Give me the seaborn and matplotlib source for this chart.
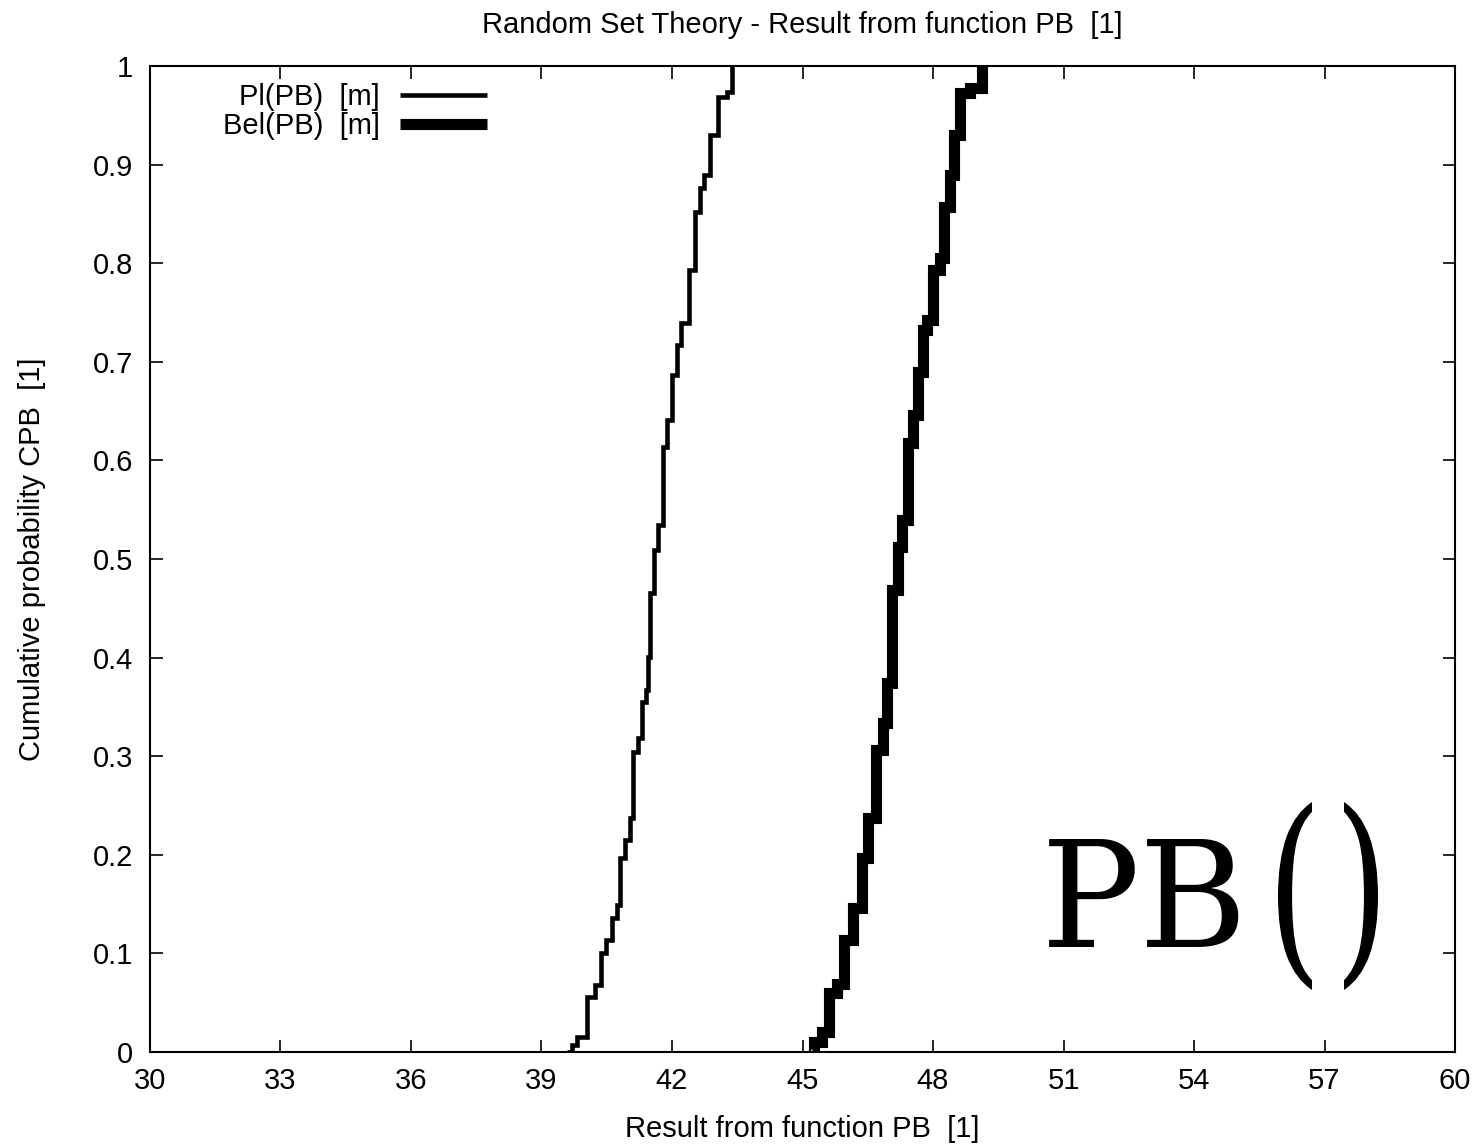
import numpy as np
import pandas as pd
import matplotlib
matplotlib.use('Agg')
import matplotlib.pyplot as plt
import seaborn as sns
from matplotlib.textpath import TextPath
from matplotlib.patches import PathPatch
from matplotlib.font_manager import FontProperties
from matplotlib.transforms import Affine2D

# Plausibility curve Pl(PB): x position of each vertical step and the level it reaches
pl_x = [39.59, 39.70, 39.82, 40.05, 40.23, 40.37, 40.49, 40.63, 40.74, 40.80,
        40.92, 41.03, 41.10, 41.22, 41.31, 41.40, 41.45, 41.49, 41.59, 41.68,
        41.79, 41.88, 42.00, 42.11, 42.21, 42.39, 42.53, 42.64, 42.74, 42.87,
        43.06, 43.26, 43.38]
pl_y = [0.000, 0.007, 0.015, 0.056, 0.068, 0.100, 0.114, 0.136, 0.149, 0.197,
        0.215, 0.237, 0.304, 0.318, 0.355, 0.367, 0.401, 0.466, 0.509, 0.534,
        0.614, 0.641, 0.687, 0.717, 0.739, 0.793, 0.852, 0.876, 0.889, 0.930,
        0.969, 0.974, 1.000]

# Belief curve Bel(PB)
bel_x = [45.22, 45.26, 45.45, 45.61, 45.79, 45.95, 46.16, 46.37, 46.51, 46.69,
         46.85, 46.94, 47.06, 47.20, 47.29, 47.43, 47.54, 47.66, 47.77, 47.86,
         48.00, 48.16, 48.25, 48.39, 48.48, 48.62, 48.85, 49.13]
bel_y = [0.000, 0.010, 0.020, 0.060, 0.069, 0.114, 0.146, 0.197, 0.237, 0.306,
         0.334, 0.374, 0.469, 0.512, 0.540, 0.618, 0.646, 0.690, 0.732, 0.742,
         0.793, 0.805, 0.857, 0.889, 0.930, 0.973, 0.978, 1.000]

x_ticks = [30, 33, 36, 39, 42, 45, 48, 51, 54, 57, 60]
y_ticks = [0.0, 0.1, 0.2, 0.3, 0.4, 0.5, 0.6, 0.7, 0.8, 0.9, 1.0]
y_tick_labels = ['0', '0.1', '0.2', '0.3', '0.4', '0.5', '0.6', '0.7', '0.8', '0.9', '1']

W, H = 1482, 1148

sns.set_style('ticks', rc={'text.color': 'black', 'axes.labelcolor': 'black',
                           'xtick.color': 'black', 'ytick.color': 'black',
                           'axes.edgecolor': 'black'})
plt.rcParams['font.family'] = ['Liberation Sans', 'DejaVu Sans']

fig = plt.figure(figsize=(W / 100, H / 100), dpi=100)
ax = fig.add_axes([0.1012, 0.0836, 0.8806, 0.8589])

df_pl = pd.DataFrame({'x': pl_x, 'y': pl_y})
df_bel = pd.DataFrame({'x': bel_x, 'y': bel_y})

sns.lineplot(data=df_pl, x='x', y='y', estimator=None, color='black',
             linewidth=3.3, drawstyle='steps-post', label='Pl(PB)  [m]',
             solid_capstyle='butt', solid_joinstyle='miter', ax=ax)
sns.lineplot(data=df_bel, x='x', y='y', estimator=None, color='black',
             linewidth=8.0, drawstyle='steps-post', label='Bel(PB)  [m]',
             solid_capstyle='butt', solid_joinstyle='miter', ax=ax)

ax.set_xlim(30, 60)
ax.set_ylim(0, 1)
ax.set_xticks(x_ticks)
ax.set_yticks(y_ticks)
ax.set_yticklabels(y_tick_labels)
ax.tick_params(direction='in', length=9, width=1.2, top=True, right=True,
               labelsize=21, colors='black')
ax.tick_params(axis='y', pad=12)
ax.tick_params(axis='x', pad=11)
for s in ax.spines.values():
    s.set_visible(True)
    s.set_linewidth(1.5)
    s.set_color('black')

ax.set_xlabel('Result from function PB  [1]', fontsize=21, labelpad=14)
ax.set_ylabel('Cumulative probability CPB  [1]', fontsize=21, labelpad=34)
ax.set_title('Random Set Theory - Result from function PB  [1]', fontsize=21, pad=23.5)

ax.legend(loc='upper left', bbox_to_anchor=(0.056, 0.983), frameon=False,
          markerfirst=False, fontsize=21, handlelength=3.0, handletextpad=0.68,
          borderpad=0, borderaxespad=0, labelspacing=0.05)

ax.text(0.6825, 0.1065, 'PB', transform=ax.transAxes, fontsize=106,
        family='DejaVu Serif', ha='left', va='baseline', color='black')


def tall_glyph(ch, x0, x1, y0, y1):
    '''Draw a glyph stretched into a pixel box (y measured from the top).'''
    tp = TextPath((0, 0), ch, size=1, prop=FontProperties(family='DejaVu Serif'))
    ext = tp.get_extents()
    tr = (Affine2D().translate(-ext.x0, -ext.y0)
          .scale((x1 - x0) / ext.width / W, (y1 - y0) / ext.height / H)
          .translate(x0 / W, (H - y1) / H) + fig.transFigure)
    fig.add_artist(PathPatch(tp, transform=tr, facecolor='black', lw=0))


tall_glyph('(', 1278, 1312, 802, 990)
tall_glyph(')', 1344, 1378, 802, 990)

plt.savefig('out.png', dpi=100)
